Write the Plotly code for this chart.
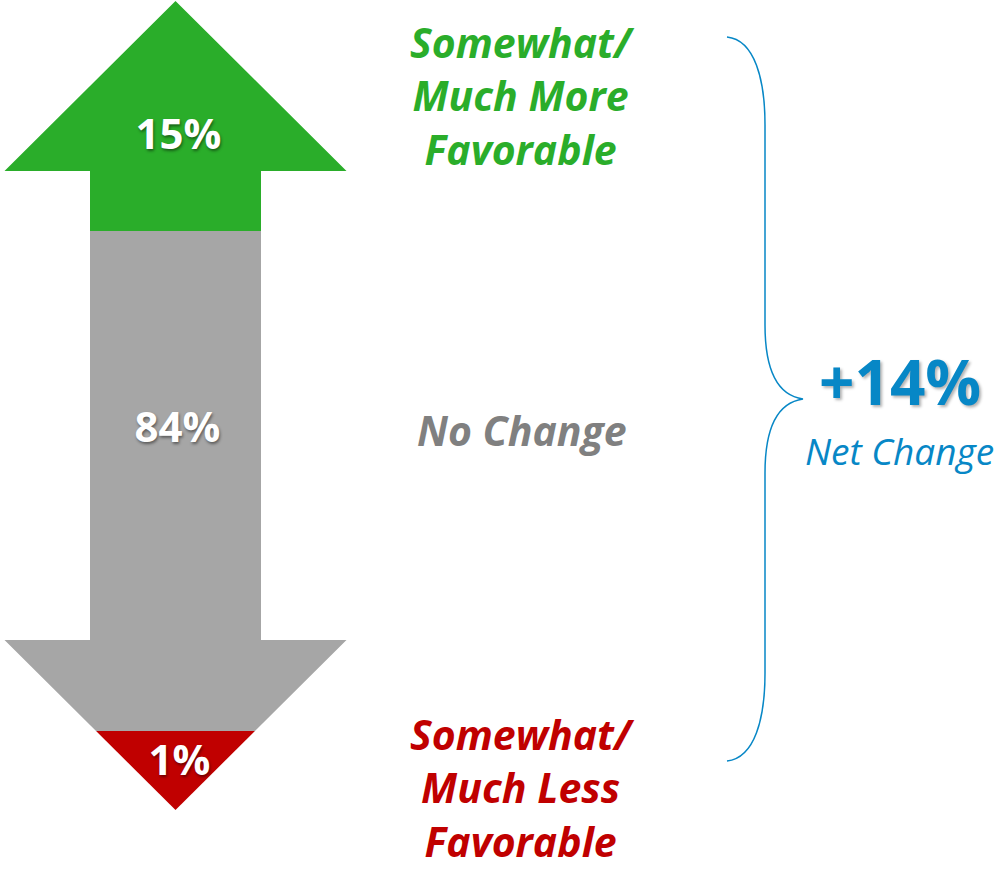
import plotly.graph_objects as go

# Survey shares for each response group
segments = ["Somewhat/<br>Much More<br>Favorable", "No Change", "Somewhat/<br>Much Less<br>Favorable"]
shares = [15, 84, 1]
share_labels = [f"{v}%" for v in shares]
net_change = shares[0] - shares[2]
net_label = f"{net_change:+d}%"
net_caption = "Net Change"

GREEN = "#2aad2a"
GRAY = "#a6a6a6"
RED = "#c00000"
BLUE = "#0787c6"
LABEL_GRAY = "#808080"
FONT = "Open Sans"

# Double-headed arrow geometry (canvas units, y grows downward)
cx = 175.5
head_half = 171
shaft_half = 85.5
top_tip, top_base = 1, 171
bot_base, bot_tip = 640, 810
split_top, split_bot = 231, 731


def head_half_at(y):
    # half width of the lower arrow head at height y
    return head_half * (bot_tip - y) / (bot_tip - bot_base)


green_xy = [
    (cx, top_tip), (cx + head_half, top_base), (cx + shaft_half, top_base),
    (cx + shaft_half, split_top), (cx - shaft_half, split_top),
    (cx - shaft_half, top_base), (cx - head_half, top_base), (cx, top_tip),
]
hw = head_half_at(split_bot)
gray_xy = [
    (cx - shaft_half, split_top), (cx + shaft_half, split_top),
    (cx + shaft_half, bot_base), (cx + head_half, bot_base),
    (cx + hw, split_bot), (cx - hw, split_bot),
    (cx - head_half, bot_base), (cx - shaft_half, bot_base),
    (cx - shaft_half, split_top),
]
red_xy = [(cx - hw, split_bot), (cx + hw, split_bot), (cx, bot_tip), (cx - hw, split_bot)]

fig = go.Figure()
for pts, col in [(green_xy, GREEN), (gray_xy, GRAY), (red_xy, RED)]:
    fig.add_trace(go.Scatter(
        x=[p[0] for p in pts], y=[p[1] for p in pts],
        mode="lines", fill="toself", fillcolor=col,
        line=dict(width=0, color=col), hoverinfo="skip", showlegend=False,
    ))

# Value labels inside the arrow
value_pos = [(cx + 3, 138), (cx + 2, 431), (cx + 4, 764)]
fig.add_trace(go.Scatter(
    x=[p[0] for p in value_pos], y=[p[1] for p in value_pos],
    mode="text", text=share_labels,
    textfont=dict(family=FONT, size=42, color="white", weight="bold",
                  shadow="1px 2px 3px rgba(0,0,0,0.45)"),
    hoverinfo="skip", showlegend=False,
))

annotations = []
label_colors = [GREEN, LABEL_GRAY, RED]
label_y = [95, 430, 787]
for text, col, y in zip(segments, label_colors, label_y):
    annotations.append(dict(
        x=522, y=y, xref="x", yref="y", text=f"<b><i>{text}</i></b>",
        showarrow=False, align="center", borderpad=0,
        font=dict(family=FONT, size=41, color=col),
    ))

annotations.append(dict(
    x=900, y=381, xref="x", yref="y", text=f"<b>{net_label}</b>",
    showarrow=False, font=dict(family=FONT, size=62, color=BLUE,
                               shadow="2px 2px 3px rgba(0,0,0,0.3)"),
))
annotations.append(dict(
    x=899, y=450, xref="x", yref="y", text=f"<i>{net_caption}</i>",
    showarrow=False, font=dict(family=FONT, size=37, color=BLUE),
))

# Curly brace spanning the three groups
brace = (
    "M 727,37 C 755,40 765,80 765,125 L 765,325 "
    "C 765,365 775,395 803,399 C 775,403 765,433 765,473 "
    "L 765,673 C 765,718 755,758 727,761"
)

fig.update_layout(
    width=1000, height=871,
    margin=dict(l=0, r=0, t=0, b=0),
    paper_bgcolor="white", plot_bgcolor="white",
    xaxis=dict(range=[0, 1000], visible=False, fixedrange=True),
    yaxis=dict(range=[871, 0], visible=False, fixedrange=True),
    annotations=annotations,
    shapes=[dict(type="path", path=brace, xref="x", yref="y",
                 line=dict(color=BLUE, width=1.5))],
    showlegend=False,
)

fig.write_html("out.html")
